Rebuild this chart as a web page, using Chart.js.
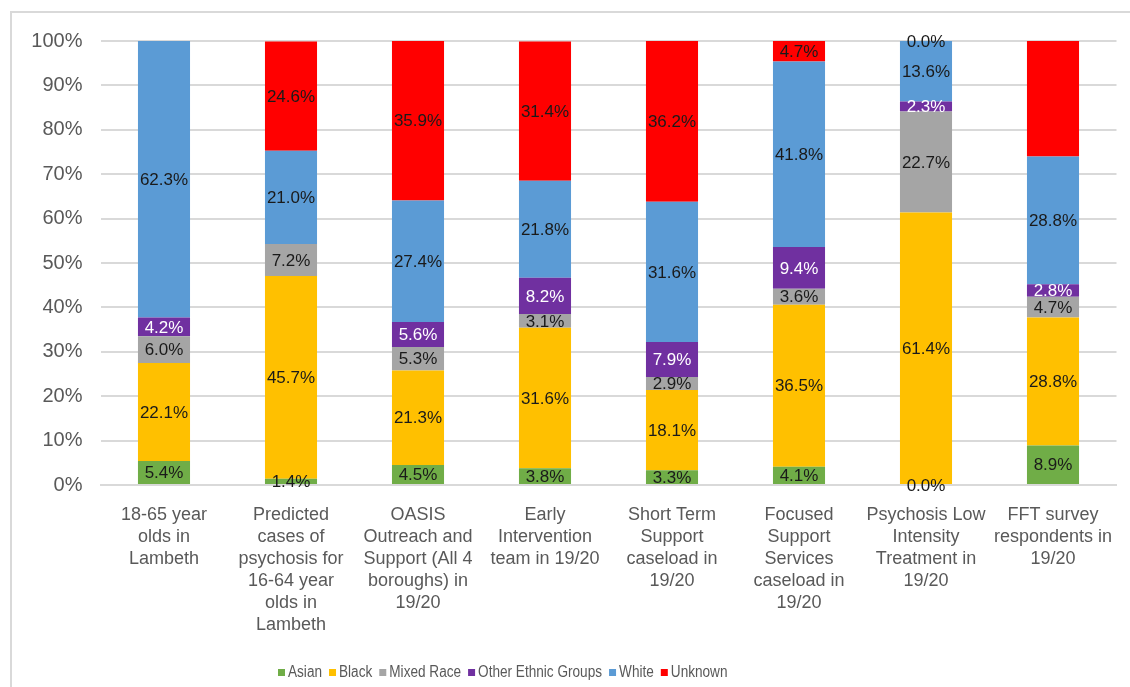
<!DOCTYPE html>
<html>
<head>
<meta charset="utf-8">
<title>Ethnicity by service</title>
<script src="https://cdn.jsdelivr.net/npm/chart.js@4/dist/chart.umd.min.js"></script>
<style>
  html, body { margin: 0; padding: 0; background: #fff; }
  #chart { display: block; }
</style>
</head>
<body>
<canvas id="chart" width="1130" height="687"></canvas>
<script>
// services along the x axis
const categories = [
  ['18-65 year', 'olds in', 'Lambeth'],
  ['Predicted', 'cases of', 'psychosis for', '16-64 year', 'olds in', 'Lambeth'],
  ['OASIS', 'Outreach and', 'Support (All 4', 'boroughs) in', '19/20'],
  ['Early', 'Intervention', 'team in 19/20'],
  ['Short Term', 'Support', 'caseload in', '19/20'],
  ['Focused', 'Support', 'Services', 'caseload in', '19/20'],
  ['Psychosis Low', 'Intensity', 'Treatment in', '19/20'],
  ['FFT survey', 'respondents in', '19/20']
];

// percentage share per ethnic group
const asian   = [5.4, 1.4, 4.5, 3.8, 3.3, 4.1, 0.0, 8.9];
const black   = [22.1, 45.7, 21.3, 31.6, 18.1, 36.5, 61.4, 28.8];
const mixed   = [6.0, 7.2, 5.3, 3.1, 2.9, 3.6, 22.7, 4.7];
const other   = [4.2, 0.0, 5.6, 8.2, 7.9, 9.4, 2.3, 2.8];
const white   = [62.3, 21.0, 27.4, 21.8, 31.6, 41.8, 13.6, 28.8];
const unknown = [0.0, 24.6, 35.9, 31.4, 36.2, 4.7, 0.0, 26.0];

// segments that carry no value label
const unlabelled = {
  'Other Ethnic Groups': [1],
  'Unknown': [0, 7]
};

const yTicks = [0, 10, 20, 30, 40, 50, 60, 70, 80, 90, 100];

const FONT = '"Liberation Sans", Arial, sans-serif';

const series = [
  { label: 'Asian', data: asian, color: '#70AD47', text: '#1a1a1a' },
  { label: 'Black', data: black, color: '#FFC000', text: '#1a1a1a' },
  { label: 'Mixed Race', data: mixed, color: '#A5A5A5', text: '#1a1a1a' },
  { label: 'Other Ethnic Groups', data: other, color: '#7030A0', text: '#ffffff' },
  { label: 'White', data: white, color: '#5B9BD5', text: '#1a1a1a' },
  { label: 'Unknown', data: unknown, color: '#FF0000', text: '#1a1a1a' }
];

// white page plus the grey frame round the chart
const framePlugin = {
  id: 'frame',
  beforeDraw(chart) {
    const ctx = chart.ctx;
    ctx.save();
    ctx.fillStyle = '#fff';
    ctx.fillRect(0, 0, chart.width, chart.height);
    ctx.strokeStyle = '#d9d9d9';
    ctx.lineWidth = 2;
    ctx.beginPath();
    ctx.moveTo(11, chart.height);
    ctx.lineTo(11, 12);
    ctx.lineTo(chart.width, 12);
    ctx.stroke();
    ctx.restore();
  }
};

// percentage in the middle of each segment
const valueLabels = {
  id: 'valueLabels',
  afterDatasetsDraw(chart) {
    const ctx = chart.ctx;
    ctx.save();
    ctx.font = '17px ' + FONT;
    ctx.textAlign = 'center';
    ctx.textBaseline = 'middle';
    chart.data.datasets.forEach((ds, i) => {
      const skip = unlabelled[ds.label] || [];
      chart.getDatasetMeta(i).data.forEach((bar, j) => {
        if (skip.includes(j)) return;
        const v = ds.data[j];
        ctx.fillStyle = ds.labelColor;
        ctx.fillText(v.toFixed(1) + '%', bar.x, (bar.y + bar.base) / 2 + 1);
      });
    });
    ctx.restore();
  }
};

// legend row under the axis labels (slightly condensed text)
const legendRow = {
  id: 'legendRow',
  afterDraw(chart) {
    const ctx = chart.ctx;
    const squeeze = 0.85;
    ctx.save();
    ctx.font = '16px ' + FONT;
    ctx.textBaseline = 'middle';
    ctx.textAlign = 'left';
    let x = 278;
    const y = 673;
    chart.data.datasets.forEach(ds => {
      ctx.fillStyle = ds.backgroundColor;
      ctx.fillRect(x, y - 4, 7, 7);
      x += 10;
      ctx.save();
      ctx.translate(x, y);
      ctx.scale(squeeze, 1);
      ctx.fillStyle = '#595959';
      ctx.fillText(ds.label, 0, 0);
      ctx.restore();
      x += ctx.measureText(ds.label).width * squeeze + 7;
    });
    ctx.restore();
  }
};

new Chart(document.getElementById('chart'), {
  type: 'bar',
  data: {
    labels: categories,
    datasets: series.map(s => ({
      label: s.label,
      data: s.data,
      backgroundColor: s.color,
      labelColor: s.text,
      borderWidth: 0,
      categoryPercentage: 1,
      barPercentage: 0.41
    }))
  },
  options: {
    responsive: false,
    animation: false,
    devicePixelRatio: 1,
    layout: { padding: { left: 0, top: 41, right: 13.5, bottom: 0 } },
    plugins: {
      legend: { display: false },
      tooltip: { enabled: false }
    },
    scales: {
      x: {
        stacked: true,
        grid: { display: false },
        border: { display: true, color: '#d9d9d9', width: 2 },
        ticks: {
          padding: 11,
          maxRotation: 0,
          autoSkip: false,
          color: '#595959',
          font: { family: FONT, size: 18, lineHeight: '22px' }
        },
        afterFit(scale) { scale.height = 202; }
      },
      y: {
        stacked: true,
        min: 0,
        max: 100,
        afterBuildTicks(scale) { scale.ticks = yTicks.map(v => ({ value: v })); },
        grid: { color: '#d9d9d9', lineWidth: 2, drawTicks: false },
        border: { display: false },
        ticks: {
          padding: 18,
          color: '#595959',
          font: { family: FONT, size: 20 },
          callback: v => v + '%'
        },
        afterFit(scale) { scale.width = 100.5; }
      }
    }
  },
  plugins: [framePlugin, valueLabels, legendRow]
});
</script>
</body>
</html>
